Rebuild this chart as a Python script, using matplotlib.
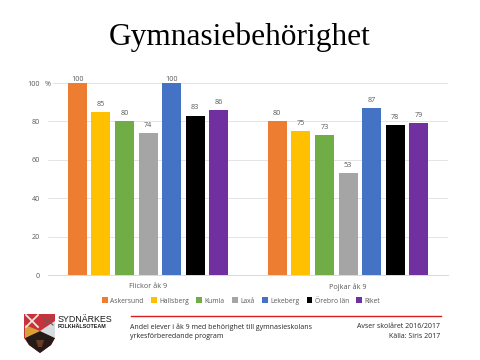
import numpy as np
import matplotlib
matplotlib.use("Agg")
import matplotlib.pyplot as plt
from matplotlib.patches import Polygon

groups = ["Flickor åk 9", "Pojkar åk 9"]
series = ["Askersund", "Hallsberg", "Kumla", "Laxå", "Lekeberg", "Örebro län", "Riket"]
flickor = [100, 85, 80, 74, 100, 83, 86]
pojkar = [80, 75, 73, 53, 87, 78, 79]
colors = ["#ED7D31", "#FFC000", "#70AD47", "#A5A5A5", "#4472C4", "#000000", "#7030A0"]
yticks = [0, 20, 40, 60, 80, 100]
ylabels = ["0", "20", "40", "60", "80", "100"]

W, H = 480, 360
FS = 5.2
plt.rcParams["font.family"] = ["Open Sans", "DejaVu Sans"]
fig = plt.figure(figsize=(W/100, H/100), dpi=100, facecolor="white")
ax = fig.add_axes([48/W, 1-275/H, 400/W, 192/H])

step = 0.118
width = 0.095
for i, (s, c) in enumerate(zip(series, colors)):
    vals = [flickor[i], pojkar[i]]
    xs = np.arange(2) + (i-3)*step
    ax.bar(xs, vals, width=width, color=c, label=s, zorder=3)
    for x, v in zip(xs, vals):
        ax.text(x, v+2.2 if v < 100 else v+0.2, str(v), ha="center", va="bottom",
                fontsize=FS, color="#595959", zorder=4)

ax.set_xlim(-0.5, 1.5)
ax.set_ylim(0, 100)
ax.set_yticks(yticks)
ax.set_yticklabels(ylabels)
ax.set_xticks([0, 1])
ax.set_xticklabels(groups)
ax.tick_params(axis="both", length=0, labelsize=FS, labelcolor="#595959")
ax.tick_params(axis="x", pad=6)
ax.tick_params(axis="y", pad=6)
ax.grid(axis="y", color="#E4E4E4", lw=0.7, zorder=0)
for s in ["top", "left", "right"]:
    ax.spines[s].set_visible(False)
ax.spines["bottom"].set_color("#D9D9D9")
ax.spines["bottom"].set_linewidth(0.7)

fig.add_artist(plt.Rectangle((44/W, 1-86/H), 9/W, 6/H, transform=fig.transFigure,
                             fc="white", ec="none", zorder=5))
fig.text(47.5/W, 1-84/H, "%", fontsize=FS, color="#595959", ha="center", va="center", zorder=6)

handles, labels = ax.get_legend_handles_labels()
fig.legend(handles, labels, loc="center", bbox_to_anchor=(241/W, 1-301/H), ncol=7,
           frameon=False, fontsize=4.9, labelcolor="#595959", handlelength=0.85,
           handleheight=0.85, handletextpad=0.35, columnspacing=1.1, borderpad=0)

fig.text(240/W, 1-37/H, "Gymnasiebehörighet", ha="center", va="center",
         fontsize=22.6, family=["Liberation Serif", "DejaVu Serif"], color="#000000")

fig.add_artist(plt.Line2D([131/W, 441/W], [1-315.7/H, 1-315.7/H], color="#D42020", lw=1.0))
TS = 5.05
fig.text(130/W, 1-326.7/H, "Andel elever i åk 9 med behörighet till gymnasieskolans",
         fontsize=TS, va="center", color="#262626")
fig.text(130/W, 1-336.2/H, "yrkesförberedande program", fontsize=TS, va="center", color="#262626")
fig.text(440/W, 1-326.7/H, "Avser skolåret 2016/2017", fontsize=TS, va="center", ha="right", color="#262626")
fig.text(440/W, 1-336.2/H, "Källa: Siris 2017", fontsize=TS, va="center", ha="right", color="#262626")

fig.text(58/W, 1-319.5/H, "SYDNÄRKES", fontsize=6.4, va="center", color="#1a1a1a",
         family=["Liberation Sans", "DejaVu Sans"])
fig.text(58/W, 1-327/H, "FOLKHÄLSOTEAM", fontsize=3.9, va="center", color="#1a1a1a",
         family=["Liberation Sans", "DejaVu Sans"], weight="bold")

def P(pts):
    return [(x/W, 1-y/H) for x, y in pts]
def poly(pts, color):
    fig.add_artist(Polygon(P(pts), closed=True, transform=fig.transFigure, fc=color, ec="none"))

poly([(24, 314), (55, 314), (55, 338), (51, 345), (40, 353), (29, 345), (24, 338)], "#C8323A")
poly([(40, 331), (55, 338), (51, 345), (40, 353), (29, 345), (25, 338)], "#241A18")
poly([(40, 331), (55, 321), (55, 338)], "#D5DDE0")
poly([(40, 331), (25, 325), (25, 338)], "#D9A036")
fig.add_artist(plt.Line2D([26/W, 38/W], [1-315/H, 1-327/H], color="#F2E6E0", lw=1.3))
fig.add_artist(plt.Line2D([38/W, 26/W], [1-315/H, 1-327/H], color="#F2E6E0", lw=1.3))
fig.add_artist(plt.Line2D([43/W, 53/W], [1-317/H, 1-325/H], color="#6E5A58", lw=0.8))
fig.add_artist(plt.Line2D([53/W, 43/W], [1-317/H, 1-325/H], color="#6E5A58", lw=0.8))
poly([(36, 340), (44, 340), (42, 347), (38, 347)], "#6B3A24")

fig.savefig("out.png", dpi=100)
